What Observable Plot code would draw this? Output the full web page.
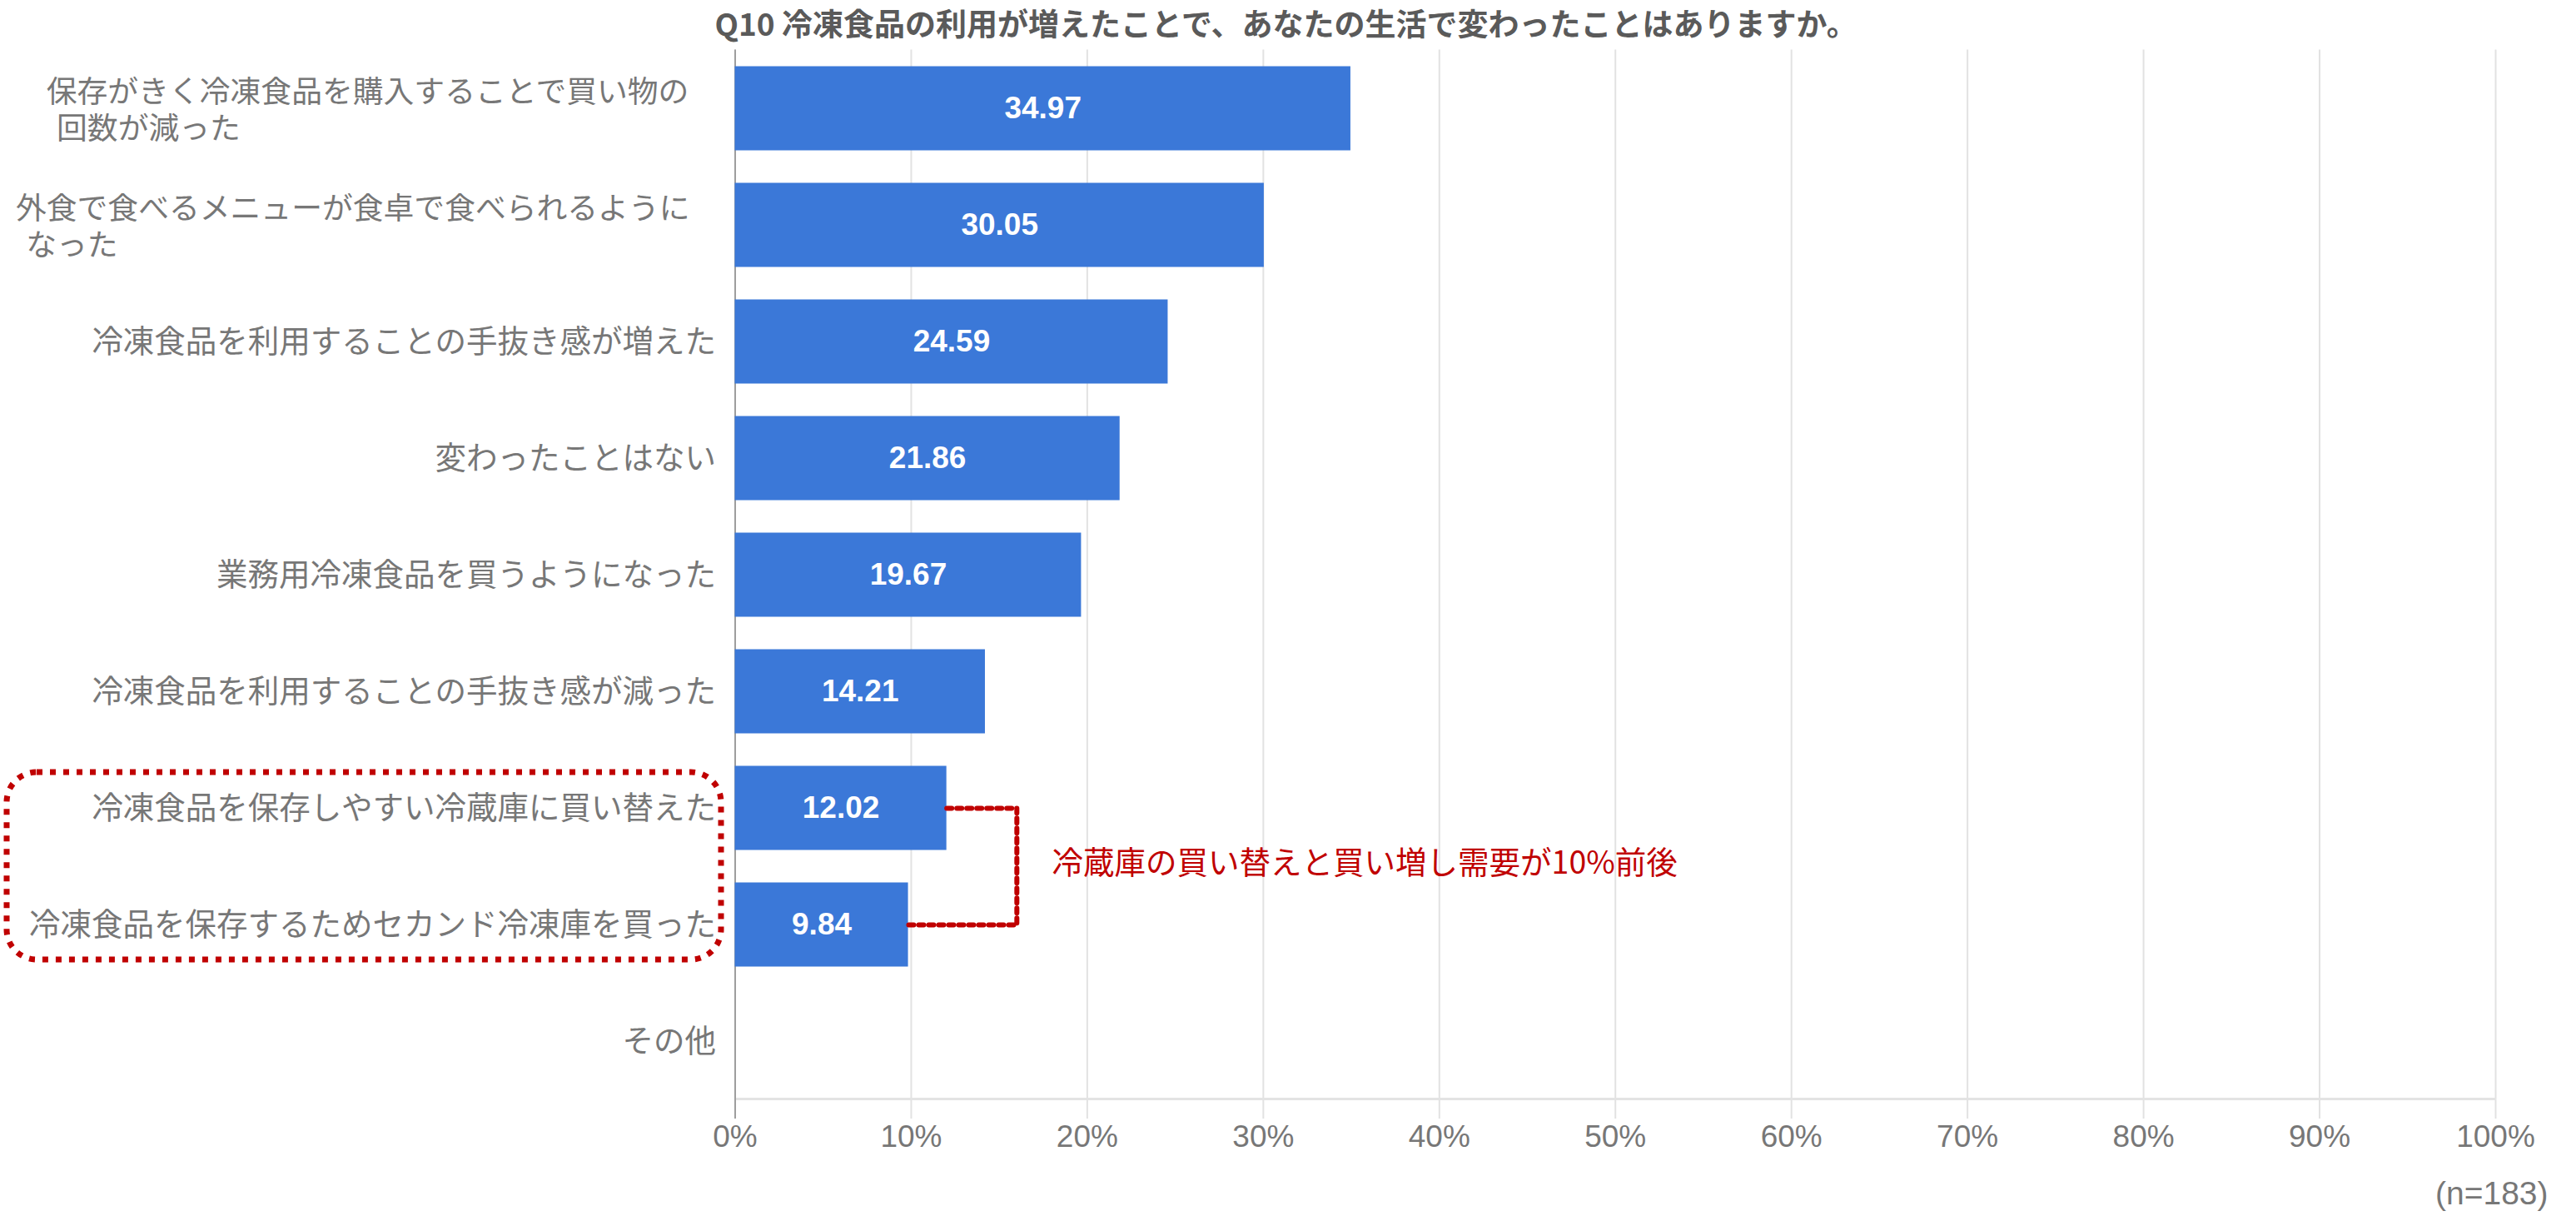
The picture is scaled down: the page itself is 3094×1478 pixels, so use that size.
<!DOCTYPE html>
<html>
<head>
<meta charset="utf-8">
<script src="https://cdn.jsdelivr.net/npm/d3@7"></script>
<script src="https://cdn.jsdelivr.net/npm/@observablehq/plot@0.6"></script>
<style>
  html, body { margin: 0; padding: 0; background: #fff; overflow: hidden; }
  #chart svg { display: block; }
</style>
</head>
<body>
<div id="chart"></div>
<script>
// ---- data ----
const labelLines = [
  ["保存がきく冷凍食品を購入することで買い物の", "回数が減った"],
  ["外食で食べるメニューが食卓で食べられるように", "なった"],
  ["冷凍食品を利用することの手抜き感が増えた"],
  ["変わったことはない"],
  ["業務用冷凍食品を買うようになった"],
  ["冷凍食品を利用することの手抜き感が減った"],
  ["冷凍食品を保存しやすい冷蔵庫に買い替えた"],
  ["冷凍食品を保存するためセカンド冷凍庫を買った"],
  ["その他"]
];
const categories = labelLines.map(l => l.join(""));
const values = [34.97, 30.05, 24.59, 21.86, 19.67, 14.21, 12.02, 9.84, 0];
const xTicks = [0, 10, 20, 30, 40, 50, 60, 70, 80, 90, 100];
const title = "Q10 冷凍食品の利用が増えたことで、あなたの生活で変わったことはありますか。";
const note = "(n=183)";
const annotation = "冷蔵庫の買い替えと買い増し需要が10%前後";
const highlighted = [categories[6], categories[7]];
const bracketX = 16;
const annotationX = 18;

// ---- build ----
const data = categories.map((c, i) => ({cat: c, value: values[i], lines: labelLines[i]}));
const JP = '"Noto Sans CJK JP", "Noto Sans", sans-serif';
const LAT = '"Liberation Sans", Arial, sans-serif';
const GRAY = "#777777";
const RED = "#c00000";
const W = 3094, H = 1478;
const mL = 882.5, mR = 97, mT = 59.5, mB = 158.5;

const ctx = document.createElement("canvas").getContext("2d");
ctx.font = `36.8px ${JP}`;
const measure = s => ctx.measureText(s).width;

const singles = data.filter(d => d.lines.length === 1);
const multis = data.filter(d => d.lines.length > 1);

const labelMarks = [];
labelMarks.push(Plot.text(singles, {
  y: "cat", text: "cat", frameAnchor: "left", textAnchor: "end", dx: -23,
  fill: GRAY, fontSize: 37.5, fontFamily: JP
}));
for (const d of multis) {
  const start = 828 - measure(d.lines[0]);
  labelMarks.push(Plot.text([d], {
    y: "cat", text: dd => dd.lines[0] + "\n\u2004" + dd.lines[1],
    frameAnchor: "left", textAnchor: "start", lineAnchor: "middle", lineHeight: 44 / 36.8,
    dx: start - mL, fill: GRAY, fontSize: 36.8, fontFamily: JP
  }));
}

const bracket = [
  {x: values[6], y: highlighted[0]},
  {x: bracketX, y: highlighted[0]},
  {x: bracketX, y: highlighted[1]},
  {x: values[7], y: highlighted[1]}
];
const annotationData = [{x: annotationX, y: highlighted[0], text: annotation}];

function baseline(index, scales, vals, dim, context) {
  const x = scales.x;
  const g = d3.create("svg:g");
  g.append("line")
    .attr("x1", x(0)).attr("x2", x(100))
    .attr("y1", dim.height - dim.marginBottom).attr("y2", dim.height - dim.marginBottom)
    .attr("stroke", "#e3e3e3").attr("stroke-width", 3);
  return g.node();
}

function highlightBox(index, scales, vals, dim, context) {
  const y = scales.y;
  const bw = y.bandwidth ? y.bandwidth() : 0;
  const top = y(highlighted[0]) + 27;
  const bottom = y(highlighted[1]) + bw - 28;
  const g = d3.create("svg:g");
  g.append("rect")
    .attr("x", 8).attr("y", top)
    .attr("width", 866 - 8).attr("height", bottom - top)
    .attr("rx", 36).attr("ry", 36)
    .attr("fill", "none").attr("stroke", RED)
    .attr("stroke-width", 7).attr("stroke-dasharray", "7,9");
  return g.node();
}

const plot = Plot.plot({
  width: W, height: H,
  marginLeft: mL, marginRight: mR, marginTop: mT, marginBottom: mB,
  style: {background: "#fff", fontFamily: LAT},
  x: {domain: [0, 100]},
  y: {domain: categories, padding: 0, axis: null},
  marks: [
    Plot.gridX(xTicks, {stroke: "#e2e2e2", strokeOpacity: 1, strokeWidth: 2}),
    Plot.axisX(xTicks, {
      tickSize: 23.5, tickPadding: 7, tickFormat: d => d + "%",
      fontSize: 37, fontFamily: LAT, fill: GRAY, stroke: "#e2e2e2", strokeWidth: 2, label: null
    }),
    baseline,
    Plot.ruleX([0], {stroke: "#9e9e9e", strokeWidth: 2, insetBottom: -23.5}),
    Plot.barX(data, {x: "value", y: "cat", fill: "#3b78d8", insetTop: 19.5, insetBottom: 19.5}),
    Plot.text(data.filter(d => d.value > 0), {
      x: d => d.value / 2, y: "cat", text: d => d.value.toFixed(2),
      fill: "white", fontWeight: "bold", fontSize: 37, fontFamily: LAT
    }),
    ...labelMarks,
    Plot.line(bracket, {x: "x", y: "y", stroke: RED, strokeWidth: 6, strokeDasharray: "6,6"}),
    Plot.text(annotationData, {
      x: "x", y: "y", dy: 66, text: "text", textAnchor: "start",
      fill: RED, fontSize: 37.5, fontFamily: JP
    }),
    highlightBox,
    Plot.text([title], {
      frameAnchor: "top-left", textAnchor: "start", lineAnchor: "middle",
      dx: 858 - mL, dy: 31 - mT, text: d => d,
      fill: "#5a5a5a", fontWeight: "bold", fontSize: 37, fontFamily: JP
    }),
    Plot.text([note], {
      frameAnchor: "bottom-right", textAnchor: "end", lineAnchor: "middle",
      dx: 3060 - (W - mR), dy: 1433 - (H - mB), text: d => d,
      fill: GRAY, fontSize: 39, fontFamily: LAT
    })
  ]
});
document.getElementById("chart").appendChild(plot);
</script>
</body>
</html>
